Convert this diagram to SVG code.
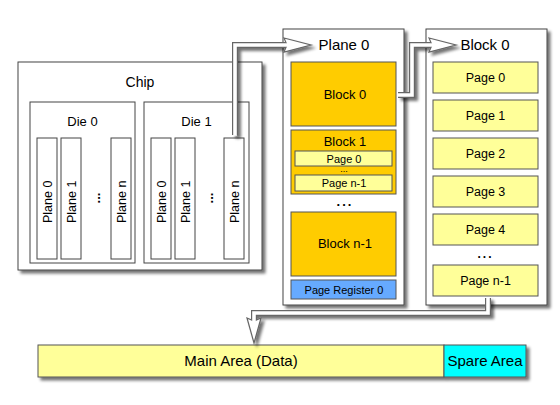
<svg xmlns="http://www.w3.org/2000/svg" width="560" height="405" viewBox="0 0 560 405">
<defs>
<filter id="sh" x="-10%" y="-10%" width="130%" height="130%">
<feGaussianBlur in="SourceAlpha" stdDeviation="1.6"/>
<feOffset dx="3" dy="3" result="b"/>
<feComponentTransfer><feFuncA type="linear" slope="0.55"/></feComponentTransfer>
<feMerge><feMergeNode/><feMergeNode in="SourceGraphic"/></feMerge>
</filter>
</defs>
<style>
text{font-family:"Liberation Sans",Arial,sans-serif;fill:#000;text-anchor:middle}
.box{fill:#fff;stroke:#444;stroke-width:1}
.gold{fill:#FFCC00;stroke:#555;stroke-width:1}
.pale{fill:#FFFF99;stroke:#555;stroke-width:1}
.reg{fill:#66AAFF;stroke:#555;stroke-width:1}
.spare{fill:#00FFFF;stroke:#555;stroke-width:1}
.pl{font-size:12.5px;text-anchor:start}
.band-o{fill:none;stroke:#666;stroke-width:6;stroke-linejoin:miter}
.band-i{fill:none;stroke:#fff;stroke-width:3.6;stroke-linejoin:miter}
.head{fill:#fff;stroke:#666;stroke-width:1.2;stroke-linejoin:miter}
</style>

<g id="chip">
<rect class="box" x="18" y="62" width="244" height="208" filter="url(#sh)"/>
<text x="140" y="87" font-size="14">Chip</text>
</g>

<g id="die0">
<rect class="box" x="30" y="102" width="105" height="161"/>
<text x="82.5" y="126" font-size="13">Die 0</text>
<rect class="box" x="37" y="138" width="20" height="121"/>
<text class="pl" transform="translate(51.5,223) rotate(-90)">Plane 0</text>
<rect class="box" x="61" y="138" width="20" height="121"/>
<text class="pl" transform="translate(75.5,223) rotate(-90)">Plane 1</text>
<text font-size="13" font-weight="bold" transform="translate(100,198) rotate(-90)">...</text>
<rect class="box" x="111" y="138" width="20" height="121"/>
<text class="pl" transform="translate(125.5,223) rotate(-90)">Plane n</text>
</g>

<g id="die1">
<rect class="box" x="144" y="102" width="105" height="161"/>
<text x="196.5" y="126" font-size="13">Die 1</text>
<rect class="box" x="151" y="138" width="20" height="121"/>
<text class="pl" transform="translate(165.5,223) rotate(-90)">Plane 0</text>
<rect class="box" x="175" y="138" width="20" height="121"/>
<text class="pl" transform="translate(189.5,223) rotate(-90)">Plane 1</text>
<text font-size="13" font-weight="bold" transform="translate(213,198) rotate(-90)">...</text>
<rect class="box" x="224" y="138" width="20" height="121"/>
<text class="pl" transform="translate(238.5,223) rotate(-90)">Plane n</text>
</g>

<g id="plane0">
<rect class="box" x="283" y="29" width="121" height="276" filter="url(#sh)"/>
<text x="344" y="50" font-size="15">Plane 0</text>
<rect class="gold" x="291" y="62" width="105" height="64"/>
<text x="345" y="99" font-size="13">Block 0</text>
<rect class="gold" x="291" y="130" width="105" height="64"/>
<text x="345" y="146" font-size="13">Block 1</text>
<rect class="pale" x="295" y="151" width="97" height="15"/>
<text x="344" y="162.5" font-size="11">Page 0</text>
<text x="344" y="172" font-size="9">...</text>
<rect class="pale" x="295" y="175" width="97" height="16"/>
<text x="344" y="187" font-size="11">Page n-1</text>
<text x="345" y="206" font-size="13" font-weight="bold" letter-spacing="2">...</text>
<rect class="gold" x="291" y="212" width="105" height="64"/>
<text x="345" y="248" font-size="13">Block n-1</text>
<rect class="reg" x="291" y="280" width="105" height="19"/>
<text x="344" y="294" font-size="11">Page Register 0</text>
</g>

<g id="block0">
<rect class="box" x="426" y="29" width="121" height="276" filter="url(#sh)"/>
<text x="485" y="50" font-size="15">Block 0</text>
<rect class="pale" x="433" y="62" width="105" height="31"/>
<text x="485.5" y="82" font-size="12.5">Page 0</text>
<rect class="pale" x="433" y="100" width="105" height="31"/>
<text x="485.5" y="120" font-size="12.5">Page 1</text>
<rect class="pale" x="433" y="138" width="105" height="31"/>
<text x="485.5" y="158" font-size="12.5">Page 2</text>
<rect class="pale" x="433" y="176" width="105" height="31"/>
<text x="485.5" y="196" font-size="12.5">Page 3</text>
<rect class="pale" x="433" y="214" width="105" height="31"/>
<text x="485.5" y="234" font-size="12.5">Page 4</text>
<text x="485.5" y="258" font-size="12" font-weight="bold" letter-spacing="2">...</text>
<rect class="pale" x="433" y="265" width="105" height="31"/>
<text x="485.5" y="285" font-size="12.5">Page n-1</text>
</g>

<g id="page">
<g filter="url(#sh)">
<rect class="pale" x="38" y="345" width="406" height="32"/>
<rect class="spare" x="444" y="345" width="82" height="32"/>
</g>
<text x="241" y="366" font-size="15">Main Area (Data)</text>
<text x="485" y="366" font-size="15">Spare Area</text>
</g>

<g id="connectors" filter="url(#sh)">
<path class="band-o" d="M235,135 V45 H286"/>
<polygon class="head" points="284,38 311,45 284,52 287,45"/>
<path class="band-i" d="M235,135.5 V45 H288"/>

<path class="band-o" d="M398,95 H412 V45 H431"/>
<polygon class="head" points="429,38 456,45 429,52 432,45"/>
<path class="band-i" d="M398,95 H412 V45 H433"/>

<path class="band-o" d="M488,298 V313 H254 V320"/>
<polygon class="head" points="247,318 254,343 261,318 254,321"/>
<path class="band-i" d="M488,297 V313 H254 V323"/>
</g>
</svg>
